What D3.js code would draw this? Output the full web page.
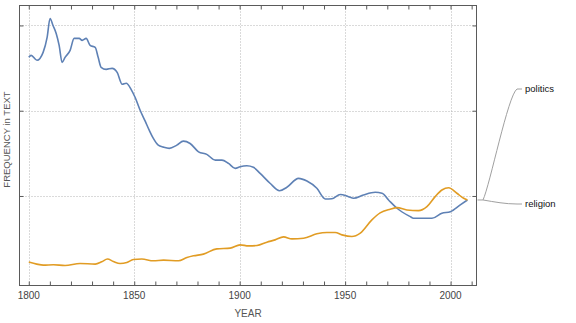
<!DOCTYPE html>
<html>
<head>
<meta charset="utf-8">
<script src="https://cdn.jsdelivr.net/npm/d3@7"></script>
<style>
  html, body { margin: 0; padding: 0; background: #fff; }
  svg { display: block; font-family: "Liberation Sans", Arial, sans-serif; }
</style>
</head>
<body>
<svg id="chart" width="576" height="323"></svg>
<script>
// Relative word frequency (arbitrary units), 1800–2008
const politicsYears = [1800, 1801.1, 1803.9, 1806.8, 1808.7, 1810.1, 1811.5, 1813.0, 1814.4, 1815.8, 1817.2, 1819.6, 1821.5, 1823.9, 1825.3, 1827.2, 1829.1, 1831.5, 1832.9, 1834.3, 1836.7, 1839.5, 1841.9, 1844.3, 1846.2, 1848.5, 1850.4, 1852.8, 1855.2, 1857.1, 1859.0, 1861.4, 1863.8, 1866.6, 1870.2, 1873.3, 1876.5, 1880.5, 1884.4, 1888.4, 1891.6, 1894.7, 1897.9, 1900.2, 1903.4, 1906.5, 1909.7, 1914.4, 1918.9, 1922.4, 1927.9, 1931.9, 1936.6, 1940.6, 1943.7, 1947.7, 1951.6, 1954.0, 1958.7, 1964.3, 1967.5, 1970.6, 1974.6, 1980.9, 1982.4, 1991.2, 1995.9, 1999.9, 2004.6, 2008];
const politicsValues = [2.626, 2.649, 2.591, 2.684, 2.860, 3.082, 3.000, 2.906, 2.766, 2.567, 2.626, 2.708, 2.848, 2.848, 2.825, 2.848, 2.766, 2.743, 2.626, 2.509, 2.485, 2.497, 2.450, 2.310, 2.322, 2.251, 2.158, 2.006, 1.877, 1.772, 1.678, 1.596, 1.573, 1.558, 1.596, 1.643, 1.616, 1.518, 1.488, 1.421, 1.421, 1.382, 1.324, 1.343, 1.354, 1.336, 1.265, 1.149, 1.062, 1.102, 1.207, 1.175, 1.090, 0.965, 0.968, 1.018, 0.992, 0.973, 1.012, 1.043, 1.032, 0.953, 0.856, 0.758, 0.739, 0.739, 0.798, 0.816, 0.895, 0.953];

const religionYears = [1800, 1803.8, 1806.9, 1811.7, 1817.2, 1824.3, 1831.5, 1834.6, 1837.3, 1840.1, 1843.3, 1846.5, 1849.6, 1853.6, 1859.1, 1863.9, 1871.0, 1875.0, 1878.1, 1882.8, 1889.2, 1895.5, 1900.2, 1904.2, 1908.2, 1912.9, 1916.8, 1920.8, 1924.8, 1930.3, 1936.6, 1941.4, 1945.3, 1948.5, 1953.2, 1957.2, 1962.7, 1966.6, 1971.4, 1974.6, 1979.3, 1984.8, 1988.8, 1992.7, 1995.9, 1999.1, 2003.0, 2006.2, 2008];
const religionValues = [0.225, 0.201, 0.189, 0.193, 0.185, 0.208, 0.201, 0.228, 0.260, 0.232, 0.208, 0.220, 0.255, 0.260, 0.240, 0.248, 0.240, 0.278, 0.298, 0.318, 0.380, 0.388, 0.427, 0.415, 0.419, 0.458, 0.485, 0.520, 0.497, 0.505, 0.556, 0.571, 0.571, 0.544, 0.524, 0.564, 0.719, 0.801, 0.844, 0.863, 0.836, 0.828, 0.875, 0.992, 1.070, 1.097, 1.032, 0.973, 0.953];

const seriesNames = ["politics", "religion"];
const seriesColors = ["#5e81b5", "#e19c24"];
const xTickLabels = [1800, 1850, 1900, 1950, 2000];
const xMinorTicks = d3.range(1800, 2011, 10);
const yGridValues = [1, 2, 3];

const svg = d3.select("#chart");
const plotLeft = 19.5, plotRight = 476.5, plotTop = 5.5, plotBottom = 285.5;

const x = d3.scaleLinear().domain([1795.6, 2012.3]).range([plotLeft, plotRight]);
const y = d3.scaleLinear().domain([-0.05, 3.234]).range([plotBottom, plotTop]);

// dotted grid
const grid = svg.append("g").attr("stroke", "#b4b4b4").attr("stroke-dasharray", "1,2").attr("stroke-width", 1);
xTickLabels.forEach(v => {
  const px = Math.round(x(v)) + 0.5;
  grid.append("line").attr("x1", px).attr("x2", px).attr("y1", plotTop).attr("y2", plotBottom);
});
yGridValues.forEach(v => {
  const py = Math.round(y(v)) + 0.5;
  grid.append("line").attr("x1", plotLeft).attr("x2", plotRight).attr("y1", py).attr("y2", py);
});

// series lines
const series = [
  { name: seriesNames[0], years: politicsYears, values: politicsValues, color: seriesColors[0] },
  { name: seriesNames[1], years: religionYears, values: religionValues, color: seriesColors[1] }
];
const line = d3.line().x(d => x(d[0])).y(d => y(d[1])).curve(d3.curveMonotoneX);
series.forEach(s => {
  svg.append("path")
    .datum(s.years.map((yr, i) => [yr, s.values[i]]))
    .attr("fill", "none")
    .attr("stroke", s.color)
    .attr("stroke-width", 1.6)
    .attr("stroke-linejoin", "round")
    .attr("d", line);
});

// frame with inward ticks
const frameColor = "#5a5a5a";
svg.append("rect").attr("x", plotLeft).attr("y", plotTop)
  .attr("width", plotRight - plotLeft).attr("height", plotBottom - plotTop)
  .attr("fill", "none").attr("stroke", frameColor).attr("stroke-width", 1);

const bottomAxis = d3.axisBottom(x).tickValues(xMinorTicks).tickSize(-4).tickFormat("");
const topAxis = d3.axisTop(x).tickValues(xMinorTicks).tickSize(-4).tickFormat("");
const leftAxis = d3.axisLeft(y).tickValues(yGridValues).tickSize(-4).tickFormat("");
const rightAxis = d3.axisRight(y).tickValues(yGridValues).tickSize(-4).tickFormat("");
[[bottomAxis, `translate(0,${plotBottom})`], [topAxis, `translate(0,${plotTop})`],
 [leftAxis, `translate(${plotLeft},0)`], [rightAxis, `translate(${plotRight},0)`]].forEach(([ax, tr]) => {
  const g = svg.append("g").attr("transform", tr).call(ax);
  g.select(".domain").remove();
  g.selectAll("line").attr("stroke", frameColor);
});

// year labels
svg.append("g").selectAll("text").data(xTickLabels).join("text")
  .attr("x", d => x(d)).attr("y", 299)
  .attr("text-anchor", "middle")
  .attr("font-size", 10).attr("fill", "#444")
  .text(d => d);

svg.append("text").attr("x", (plotLeft + plotRight) / 2).attr("y", 317)
  .attr("text-anchor", "middle").attr("font-size", 10).attr("fill", "#555").text("YEAR");

svg.append("text")
  .attr("transform", `translate(9.5,${(plotTop + plotBottom) / 2 - 6}) rotate(-90)`)
  .attr("text-anchor", "middle").attr("font-size", 9.5).attr("fill", "#555")
  .text("FREQUENCY in TEXT");

// callout labels connected to the series end point
const endY = y(politicsValues[politicsValues.length - 1]);
const sx = plotRight + 1, bx = 483;
const labelPos = { politics: 89, religion: 204 };
const callouts = svg.append("g").attr("fill", "none").attr("stroke", "#a0a0a0").attr("stroke-width", 1);
callouts.append("path").attr("d",
  `M${sx},${endY} H${bx} C${bx + 7},${endY - 15} ${bx + 25},${labelPos.politics + 6} ${bx + 34},${labelPos.politics} H${bx + 39}`);
callouts.append("path").attr("d",
  `M${bx},${endY} C${bx + 12},${endY + 2} ${bx + 22},${labelPos.religion} ${bx + 34},${labelPos.religion} H${bx + 39}`);

seriesNames.forEach(n => {
  svg.append("text").attr("x", bx + 42).attr("y", labelPos[n])
    .attr("dy", "0.35em").attr("font-size", 9.5).attr("fill", "#111").text(n);
});
</script>
</body>
</html>
